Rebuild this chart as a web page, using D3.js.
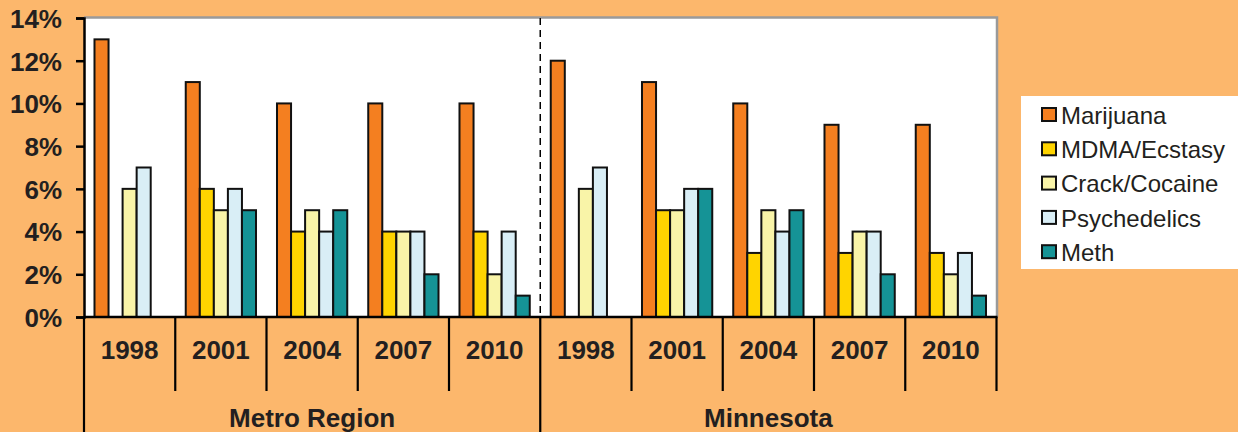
<!DOCTYPE html>
<html><head><meta charset="utf-8">
<script src="https://cdn.jsdelivr.net/npm/d3@7/dist/d3.min.js"></script>
<style>
html,body{margin:0;padding:0;background:#FCB76C;}
svg{display:block;}
text{font-family:"Liberation Sans",Arial,sans-serif;fill:#231F20;}
</style></head>
<body>
<svg id="c" width="1238" height="432"></svg>
<script>
const regions = ["Metro Region", "Minnesota"];
const years = ["1998", "2001", "2004", "2007", "2010"];
const series = ["Marijuana", "MDMA/Ecstasy", "Crack/Cocaine", "Psychedelics", "Meth"];
const colors = ["#F47F20", "#FFD400", "#F9F4A8", "#D9EEF6", "#159396"];
const yTicks = [0, 2, 4, 6, 8, 10, 12, 14];
// values per region, per year, in series order
const metroValues = [
  [13, 0, 6, 7, 0],
  [11, 6, 5, 6, 5],
  [10, 4, 5, 4, 5],
  [10, 4, 4, 4, 2],
  [10, 4, 2, 4, 1]
];
const minnesotaValues = [
  [12, 0, 6, 7, 0],
  [11, 5, 5, 6, 6],
  [10, 3, 5, 4, 5],
  [9, 3, 4, 4, 2],
  [9, 3, 2, 3, 1]
];

const svg = d3.select("#c");
const x0 = 84, x1 = 996.5, yTop = 18, yBot = 317;

const groups = [];
regions.forEach((r, ri) => years.forEach((yr, yi) => groups.push({region: r, year: yr, key: r + "|" + yr,
  values: (ri === 0 ? metroValues : minnesotaValues)[yi]})));

const xg = d3.scaleBand().domain(groups.map(g => g.key)).range([x0, x1]).padding(0);
const bw = xg.bandwidth();
const xs = d3.scaleBand().domain(series).range([bw * 0.115, bw * 0.885]).padding(0);
const y = d3.scaleLinear().domain([0, 14]).range([yBot, yTop]);

// plot area
svg.append("rect").attr("x", x0).attr("y", yTop).attr("width", x1 - x0).attr("height", yBot - yTop)
  .attr("fill", "#fff");
svg.append("path").attr("d", `M${x0},${yTop - 0.5}H${x1 + 0.5}V${yBot}`)
  .attr("fill", "none").attr("stroke", "#9a9a9a").attr("stroke-width", 2.5);

// dashed separator
const sepX = xg(groups[5].key);
svg.append("line").attr("x1", sepX).attr("x2", sepX).attr("y1", yTop).attr("y2", yBot)
  .attr("stroke", "#000").attr("stroke-width", 1.5).attr("stroke-dasharray", "7,5");

// bars
const g = svg.selectAll("g.grp").data(groups).join("g").attr("class", "grp")
  .attr("transform", d => `translate(${xg(d.key)},0)`);
g.selectAll("rect").data(d => d.values.map((v, i) => ({s: series[i], v, c: colors[i]})).filter(e => e.v > 0))
  .join("rect")
  .attr("x", d => xs(d.s)).attr("width", xs.bandwidth())
  .attr("y", d => y(d.v)).attr("height", d => yBot - y(d.v))
  .attr("fill", d => d.c).attr("stroke", "#111").attr("stroke-width", 2);

// y axis
const ya = svg.append("g").attr("transform", `translate(${x0},0)`)
  .call(d3.axisLeft(y).tickValues(yTicks).tickFormat(d => d + "%").tickSize(8).tickPadding(14));
ya.select(".domain").attr("stroke", "#000").attr("stroke-width", 2.5);
ya.selectAll(".tick line").attr("stroke", "#000").attr("stroke-width", 2.5);
ya.selectAll(".tick text").attr("font-size", "26px").attr("font-weight", "bold").attr("fill", "#231F20")
  .style("font-family", "Liberation Sans, Arial, sans-serif").attr("dy", "0.36em");

// x axis baseline
svg.append("line").attr("x1", x0).attr("x2", x1 + 1).attr("y1", yBot).attr("y2", yBot)
  .attr("stroke", "#000").attr("stroke-width", 2.5);

// group tick lines
const bounds = groups.map(d => xg(d.key)).concat([x1]);
svg.selectAll("line.gt").data(bounds).join("line").attr("class", "gt")
  .attr("x1", d => d).attr("x2", d => d).attr("y1", yBot)
  .attr("y2", (d, i) => (i === 0 || i === 5) ? 432 : 391)
  .attr("stroke", "#000").attr("stroke-width", 2.2);

// year labels
svg.selectAll("text.yr").data(groups).join("text").attr("class", "yr")
  .attr("x", d => xg(d.key) + bw / 2).attr("y", 350).attr("dy", "0.36em")
  .attr("text-anchor", "middle").attr("font-size", "26px").attr("font-weight", "bold")
  .text(d => d.year);

// region labels
svg.selectAll("text.rg").data(regions).join("text").attr("class", "rg")
  .attr("x", (d, i) => i === 0 ? (x0 + sepX) / 2 : (sepX + x1) / 2).attr("y", 418).attr("dy", "0.36em")
  .attr("text-anchor", "middle").attr("font-size", "26px").attr("font-weight", "bold")
  .text(d => d);

// legend
const lg = svg.append("g");
lg.append("rect").attr("x", 1021).attr("y", 96).attr("width", 217).attr("height", 173).attr("fill", "#fff");
const li = lg.selectAll("g").data(series).join("g")
  .attr("transform", (d, i) => `translate(1042,${115 + i * 34.3})`);
li.append("rect").attr("x", 0).attr("y", -7).attr("width", 14).attr("height", 13)
  .attr("fill", (d, i) => colors[i]).attr("stroke", "#111").attr("stroke-width", 2);
li.append("text").attr("x", 19).attr("y", 0).attr("dy", "0.36em").attr("font-size", "24px")
  .attr("fill", "#111").text(d => d);
</script>
</body></html>
